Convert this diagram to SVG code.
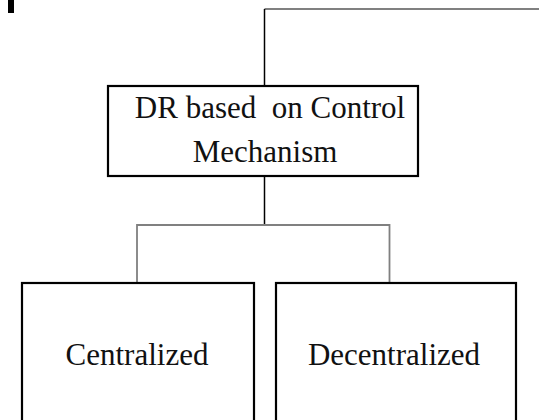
<svg xmlns="http://www.w3.org/2000/svg" width="539" height="420" viewBox="0 0 539 420">
<style>
.box{fill:#fff;stroke:#000;stroke-width:2.2}
.t{font-family:"Liberation Serif","Times New Roman",serif;font-size:31px;fill:#111;text-anchor:middle;white-space:pre}
.cb{stroke:#000;stroke-width:1.5;fill:none}
.cg{stroke:#808080;stroke-width:1.8;fill:none}
</style>
<rect x="8" y="0" width="6" height="13" fill="#000"/>
<g id="connectors">
<line class="cg" x1="264.5" y1="9" x2="539" y2="9"/>
<line class="cb" x1="264.5" y1="9" x2="264.5" y2="86"/>
<line class="cb" x1="264.5" y1="176" x2="264.5" y2="225"/>
<polyline class="cg" points="137,283 137,225 389.5,225 389.5,283"/>
</g>
<g id="node-dr">
<rect class="box" x="108" y="86" width="310" height="90"/>
<text class="t" x="270" y="118">DR based  on Control</text>
<text class="t" x="265" y="162">Mechanism</text>
</g>
<g id="node-centralized">
<rect class="box" x="22" y="283" width="232" height="150"/>
<text class="t" x="137" y="365">Centralized</text>
</g>
<g id="node-decentralized">
<rect class="box" x="276" y="283" width="240" height="150"/>
<text class="t" x="394" y="365">Decentralized</text>
</g>
</svg>
